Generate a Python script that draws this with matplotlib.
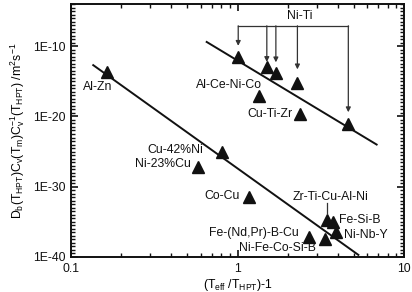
import numpy as np
import matplotlib
matplotlib.use("Agg")
import matplotlib.pyplot as plt
from matplotlib.ticker import FixedLocator, NullFormatter, FixedFormatter

plt.rcParams['font.family'] = ['Liberation Sans', 'DejaVu Sans']
plt.rcParams['mathtext.default'] = 'regular'

# Data (x = Teff/THPT - 1, y = normalized diffusivity m^2/s)
names = ['Al-Zn', 'Ni-Ti a', 'Ni-Ti b', 'Ni-Ti c', 'Ni-Ti d', 'Ni-Ti e',
         'Al-Ce-Ni-Co', 'Cu-Ti-Zr', 'Cu-42%Ni', 'Ni-23%Cu', 'Co-Cu',
         'Zr-Ti-Cu-Al-Ni', 'Fe-Si-B', 'Ni-Nb-Y', 'Fe-(Nd,Pr)-B-Cu', 'Ni-Fe-Co-Si-B']
x_vals = [0.164, 1.01, 1.50, 1.70, 2.29, 4.63,
          1.35, 2.37, 0.81, 0.58, 1.18,
          3.43, 3.73, 3.91, 2.70, 3.36]
y_exp = [-13.7, -11.6, -13.0, -13.8, -15.2, -21.1,
         -17.1, -19.7, -25.0, -27.2, -31.4,
         -34.7, -35.0, -36.4, -37.1, -37.5]
y_vals = [10.0 ** e for e in y_exp]

# Fit lines (end points)
line1_x = [0.653, 6.85]
line1_y = [10.0 ** -9.4, 10.0 ** -24.0]
line2_x = [0.136, 5.32]
line2_y = [10.0 ** -12.7, 10.0 ** -39.7]

# Ni-Ti arrows: tip gap above each point (decades)
niti_idx = [1, 2, 3, 4, 5]
niti_gap = [1.65, 0.75, 1.5, 1.9, 1.7]
bracket_exp = -7.1

fig = plt.figure(figsize=(4.12, 2.92), dpi=100)
ax = fig.add_axes([71/412, 1-257/292, 333/412, 253/292])
ax.set_xscale('log')
ax.set_yscale('log')
ax.set_xlim(0.1, 10)
ax.set_ylim(1e-40, 1e-4)

ax.plot(line1_x, line1_y, color='#111111', lw=1.4, zorder=2)
ax.plot(line2_x, line2_y, color='#111111', lw=1.4, zorder=2)
ax.plot(x_vals, y_vals, linestyle='none', marker='^', ms=8.5, color='#111111',
        mec='#111111', zorder=3)

fs = 8.8

def txt(s, xp, yp, ha='center'):
    # pixel positions in figure (top-left origin)
    fig.text(xp/412, 1-yp/292, s, ha=ha, va='center', fontsize=fs, color='#111111')

txt('Al-Zn', 98, 87)
txt('Al-Ce-Ni-Co', 229, 85)
txt('Cu-Ti-Zr', 292, 114, ha='right')
txt('Cu-42%Ni', 203, 150, ha='right')
txt('Ni-23%Cu', 191, 164, ha='right')
txt('Co-Cu', 240, 196, ha='right')
txt('Zr-Ti-Cu-Al-Ni', 331, 197)
txt('Fe-Si-B', 339, 220, ha='left')
txt('Ni-Nb-Y', 344, 235, ha='left')
txt('Fe-(Nd,Pr)-B-Cu', 299, 233, ha='right')
txt('Ni-Fe-Co-Si-B', 277, 248)
txt('Ni-Ti', 300, 16)

# Ni-Ti bracket with arrows
bracket_y = 10.0 ** bracket_exp
ax.plot([x_vals[niti_idx[0]], x_vals[niti_idx[-1]]], [bracket_y, bracket_y], color='#333333', lw=0.9)
for i, g in zip(niti_idx, niti_gap):
    ax.annotate('', xy=(x_vals[i], y_vals[i] * 10 ** g), xytext=(x_vals[i], bracket_y),
                arrowprops=dict(arrowstyle='-|>', color='#333333', lw=0.9,
                                mutation_scale=7, shrinkA=0, shrinkB=0))
# Zr-Ti-Cu-Al-Ni tick
ax.plot([x_vals[11], x_vals[11]], [10 ** -32.3, 10 ** -33.7], color='#333333', lw=0.9)

# ticks
ax.yaxis.set_major_locator(FixedLocator([1e-40, 1e-30, 1e-20, 1e-10]))
ax.yaxis.set_major_formatter(FixedFormatter(['1E-40', '1E-30', '1E-20', '1E-10']))
ax.yaxis.set_minor_locator(FixedLocator([10.0 ** (k / 2) for k in range(-80, -7)]))
ax.yaxis.set_minor_formatter(NullFormatter())
ax.xaxis.set_major_locator(FixedLocator([0.1, 1, 10]))
ax.xaxis.set_major_formatter(FixedFormatter(['0.1', '1', '10']))
ax.xaxis.set_minor_locator(FixedLocator([m * 10.0 ** d for d in (-1, 0) for m in range(2, 10)]))
ax.xaxis.set_minor_formatter(NullFormatter())
ax.tick_params(which='both', direction='in', top=True, right=True, labelsize=fs, colors='#111111')
ax.tick_params(which='major', length=5, width=1.2, pad=4)
ax.tick_params(which='minor', length=3, width=1.0)
for s in ax.spines.values():
    s.set_linewidth(1.4)
    s.set_color('#111111')

ax.set_xlabel(r'(T$_{eff}$ /T$_{HPT}$)-1', fontsize=fs, labelpad=2)
ax.set_ylabel(r'D$_b$(T$_{HPT}$)C$_v$(T$_m$)C$_v^{-1}$(T$_{HPT}$) /m$^2$s$^{-1}$',
              fontsize=fs, labelpad=4)

fig.savefig('out.png', dpi=100)
